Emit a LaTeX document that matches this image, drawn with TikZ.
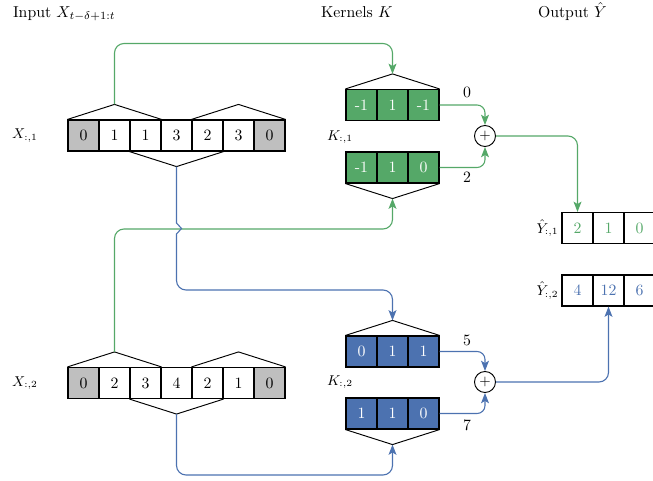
\documentclass[tikz,border=0pt]{standalone}
\usetikzlibrary{arrows.meta,calc}
\definecolor{gcol}{RGB}{85,168,104}
\definecolor{bcol}{RGB}{76,114,176}
\begin{document}
\begin{tikzpicture}[x=0.633pt,y=-0.633pt,
  cell/.style={draw=black,line width=0.75pt,minimum width=19.6pt,minimum height=19.6pt,inner sep=0pt,font=\normalsize},
  pad/.style={cell,fill=black!25},
  gk/.style={cell,fill=gcol,text=white},
  bk/.style={cell,fill=bcol,text=white},
  gt/.style={cell,text=gcol},
  bt/.style={cell,text=bcol},
  tri/.style={draw=black,line width=0.6pt},
  gline/.style={draw=gcol,line width=0.7pt},
  bline/.style={draw=bcol,line width=0.7pt},
  tip/.style={-{Stealth[length=6.5pt,width=5pt,inset=1.5pt]}},
  sumnode/.style={draw=black,circle,line width=0.6pt,minimum size=13.3pt,inner sep=0pt,font=\small},
  lab/.style={font=\small,inner sep=0pt},
  num/.style={font=\normalsize,inner sep=0pt},
  head/.style={inner sep=0pt,anchor=base west}
]
\useasboundingbox (0,0) rectangle (653,481);

% headers
\node[head] (hin) at (12.7,17.5) {Input $X_{t-\delta+1:t}$};
\node[head] (hk) at (320.7,17.5) {Kernels $K$};
\node[head] (hout) at (537.7,17.5) {Output $\hat{Y}$};

% input rows
\foreach \v [count=\i from 0] in {0,1,1,3,2,3,0} {
  \ifnum\i=0 \def\st{pad}\else\ifnum\i=6 \def\st{pad}\else\def\st{cell}\fi\fi
  \node[\st] (x1c\i) at (83.5+31*\i,135.5) {\v};
}
\foreach \v [count=\i from 0] in {0,2,3,4,2,1,0} {
  \ifnum\i=0 \def\st{pad}\else\ifnum\i=6 \def\st{pad}\else\def\st{cell}\fi\fi
  \node[\st] (x2c\i) at (83.5+31*\i,383) {\v};
}
\node[lab] (lx1) at (25,135.5) {$X_{:,1}$};
\node[lab] (lx2) at (25,383) {$X_{:,2}$};

% kernels
\foreach \v [count=\i from 0] in {-1,1,-1} \node[gk] (k1a\i) at (361.5+31*\i,105) {\v};
\foreach \v [count=\i from 0] in {-1,1,0} \node[gk] (k1b\i) at (361.5+31*\i,167.5) {\v};
\foreach \v [count=\i from 0] in {0,1,1} \node[bk] (k2a\i) at (361.5+31*\i,351.5) {\v};
\foreach \v [count=\i from 0] in {1,1,0} \node[bk] (k2b\i) at (361.5+31*\i,413.5) {\v};
\node[lab] (lk1) at (340,137) {$K_{:,1}$};
\node[lab] (lk2) at (340,382) {$K_{:,2}$};

% outputs
\foreach \v [count=\i from 0] in {2,1,0} \node[gt] (y1c\i) at (577.5+31*\i,228) {\v};
\foreach \v [count=\i from 0] in {4,12,6} \node[bt] (y2c\i) at (577.5+31*\i,290.5) {\v};
\node[lab] (ly1) at (547.5,228) {$\hat{Y}_{:,1}$};
\node[lab] (ly2) at (547.5,290.5) {$\hat{Y}_{:,2}$};

% sums
\node[sumnode] (s1) at (485,136) {$+$};
\node[sumnode] (s2) at (485,382) {$+$};
\node[num] (l0) at (467,92) {0};
\node[num] (l2) at (467,177) {2};
\node[num] (l5) at (467,340) {5};
\node[num] (l7) at (467,425) {7};

% apex coordinates
\coordinate (x1tl) at ($(x1c1.north)+(0,-15)$);
\coordinate (x1tr) at ($(x1c5.north)+(0,-15)$);
\coordinate (x1b)  at ($(x1c3.south)+(0,15)$);
\coordinate (x2tl) at ($(x2c1.north)+(0,-15)$);
\coordinate (x2tr) at ($(x2c5.north)+(0,-15)$);
\coordinate (x2b)  at ($(x2c3.south)+(0,15)$);
\coordinate (k1t) at ($(k1a1.north)+(0,-15)$);
\coordinate (k1b) at ($(k1b1.south)+(0,15)$);
\coordinate (k2t) at ($(k2a1.north)+(0,-15)$);
\coordinate (k2b) at ($(k2b1.south)+(0,15)$);

% triangles
\draw[tri] (x1c0.north west) -- (x1tl) -- (x1c2.north east);
\draw[tri] (x1c4.north west) -- (x1tr) -- (x1c6.north east);
\draw[tri] (x1c2.south west) -- (x1b) -- (x1c4.south east);
\draw[tri] (x2c0.north west) -- (x2tl) -- (x2c2.north east);
\draw[tri] (x2c4.north west) -- (x2tr) -- (x2c6.north east);
\draw[tri] (x2c2.south west) -- (x2b) -- (x2c4.south east);
\draw[tri] (k1a0.north west) -- (k1t) -- (k1a2.north east);
\draw[tri] (k1b0.south west) -- (k1b) -- (k1b2.south east);
\draw[tri] (k2a0.north west) -- (k2t) -- (k2a2.north east);
\draw[tri] (k2b0.south west) -- (k2b) -- (k2b2.south east);

% routing levels
\coordinate (yg1) at (0,43.5);
\coordinate (yg2) at (0,229);
\coordinate (yb1) at (0,290);
\coordinate (yb2) at (0,475);
\coordinate (hopa) at (0,223);
\coordinate (hopb) at (0,234);

% connectors
\draw[gline,tip,rounded corners=6pt] (x1tl) -- (x1tl |- yg1) -- (k1t |- yg1) -- (k1t);
\draw[gline,tip,rounded corners=6pt] (x2tl) -- (x2tl |- yg2) -- (k1b |- yg2) -- (k1b);
\draw[bline,tip] (x1b) -- (x1b |- hopa) -- ++(5,5.5) -- (x1b |- hopb)
   [rounded corners=6pt] -- (x1b |- yb1) -- (k2t |- yb1) -- (k2t);
\draw[bline,tip,rounded corners=6pt] (x2b) -- (x2b |- yb2) -- (k2b |- yb2) -- (k2b);

\draw[gline,tip,rounded corners=5pt] (k1a2.east) -- (s1 |- k1a2.east) -- (s1.north);
\draw[gline,tip,rounded corners=5pt] (k1b2.east) -- (s1 |- k1b2.east) -- (s1.south);
\draw[bline,tip,rounded corners=5pt] (k2a2.east) -- (s2 |- k2a2.east) -- (s2.north);
\draw[bline,tip,rounded corners=5pt] (k2b2.east) -- (s2 |- k2b2.east) -- (s2.south);

\draw[gline,tip,rounded corners=6pt] (s1.east) -- (y1c0 |- s1.east) -- (y1c0.north);
\draw[bline,tip,rounded corners=6pt] (s2.east) -- (y2c1 |- s2.east) -- (y2c1.south);
\end{tikzpicture}
\end{document}
